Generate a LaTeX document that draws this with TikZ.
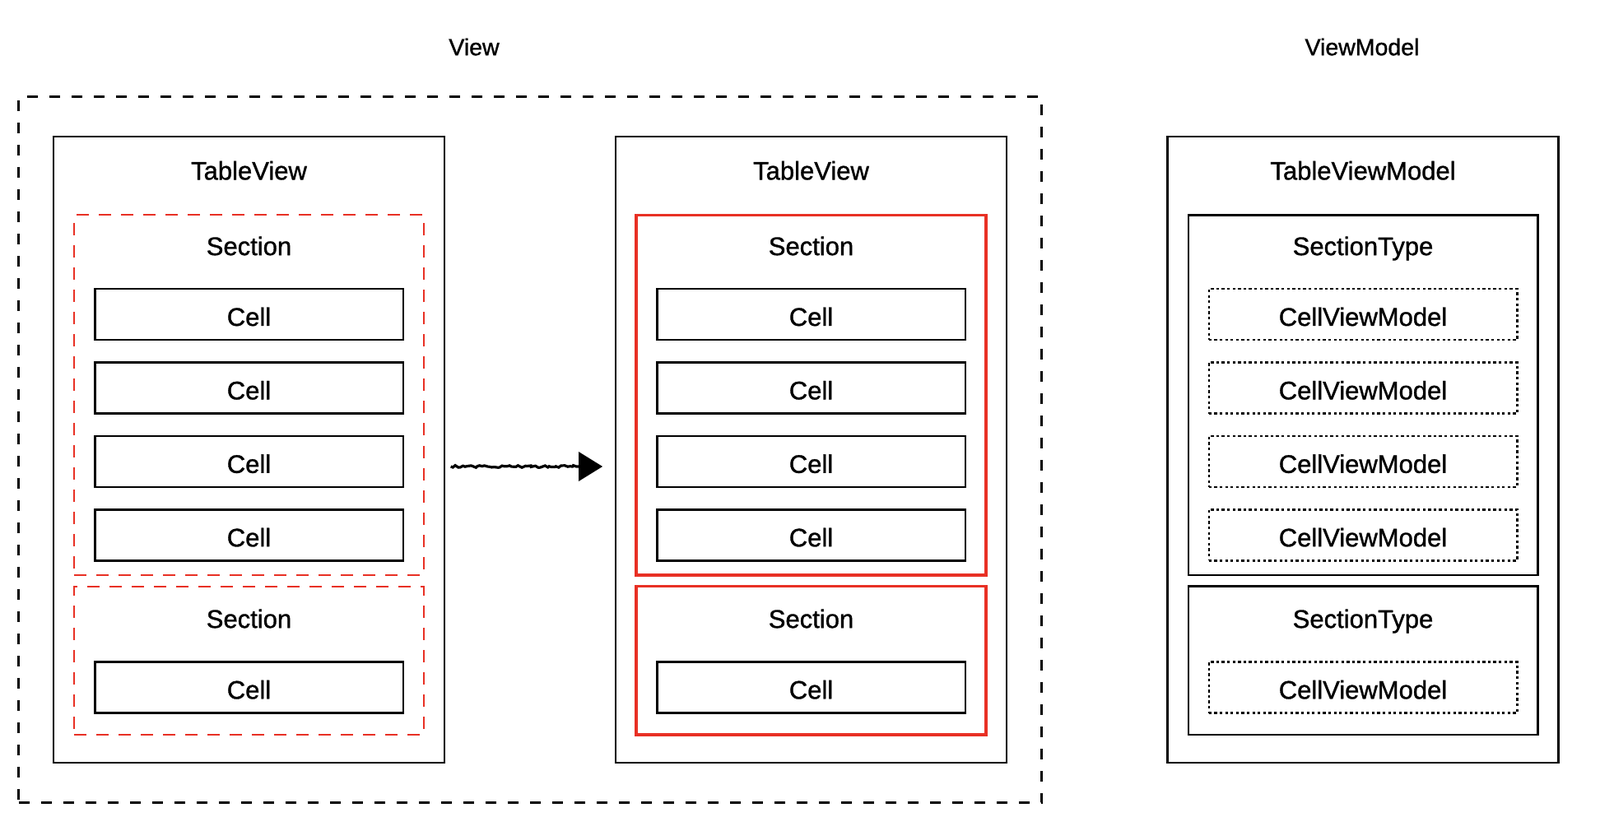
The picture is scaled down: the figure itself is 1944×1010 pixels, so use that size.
\documentclass[tikz,border=0pt]{standalone}
\usepackage{fontspec}
\setmainfont{Liberation Sans}
\newfontfamily\boxfont[FakeBold=1.1]{Liberation Sans}
\usetikzlibrary{arrows.meta, decorations.pathmorphing}
\definecolor{sectred}{RGB}{232,48,36}
\tikzset{
    viewarea/.style={rectangle, minimum width=621.5pt, minimum height=429pt, draw=black, line width=1.5pt, dash pattern=on 6.5pt off 7pt},
    tablebox/.style={rectangle, minimum width=237.5pt, minimum height=380.5pt, draw=black, line width=1.25pt},
    sectdash/.style={rectangle, minimum width=212.25pt, draw=sectred, line width=1pt, dash pattern=on 7.5pt off 6pt},
    sectsolid/.style={rectangle, minimum width=212.25pt, draw=sectred, line width=1.8pt},
    typebox/.style={rectangle, minimum width=212.25pt, draw=black, line width=1.25pt},
    cellbox/.style={rectangle, minimum width=187.25pt, minimum height=31pt, draw=black, line width=1.25pt, inner sep=0pt, font=\boxfont\fontsize{15.5}{18}\selectfont, text height=13.8pt, text depth=0pt},
    cvmbox/.style={cellbox, dash pattern=on 1.65pt off 1.65pt},
    title/.style={inner sep=0pt, font=\boxfont\fontsize{15.5}{18}\selectfont, text height=11.1pt, text depth=0pt},
    heading/.style={inner sep=0pt, font=\boxfont\fontsize{14.25}{17}\selectfont, text height=10.2pt, text depth=0pt},
    arrow/.style={line width=1.6pt, -{Triangle[length=14.5pt, width=17.5pt]}, decoration={random steps, segment length=1.5pt, amplitude=0.7pt, post length=16pt}, decorate}
}
\begin{document}
\begin{tikzpicture}[x=0.5pt, y=-0.5pt]
    \useasboundingbox (0,0) rectangle (1944,1010);

    \node (viewlbl) [heading] at (576,57) {View};
    \node (vmlbl) [heading] at (1655,57) {ViewModel};
    \node (view) [viewarea] at (644.25,546.9) {};

    % left: TableView with dashed sections
    \node (tv1) [tablebox] at (302.5,546.5) {};
    \node (tv1t) [title] at ([yshift=-21.25pt]tv1.north) {TableView};
    \node (s1a) [sectdash, minimum height=218.75pt] at (302.5,480.25) {};
    \node (s1at) [title] at (302.5,299) {Section};
    \foreach \i/\y in {1/382.2, 2/471.6, 3/561, 4/650.4}
        \node (c1a\i) [cellbox] at (302.5,\y) {Cell};
    \node (s1b) [sectdash, minimum height=90.25pt] at (302.5,802.75) {};
    \node (s1bt) [title] at (302.5,752) {Section};
    \node (c1b1) [cellbox] at (302.5,835.5) {Cell};

    % middle: TableView with solid sections
    \node (tv2) [tablebox] at (985.5,546.5) {};
    \node (tv2t) [title] at ([yshift=-21.25pt]tv2.north) {TableView};
    \node (s2a) [sectsolid, minimum height=218.75pt] at (985.5,480.25) {};
    \node (s2at) [title] at (985.5,299) {Section};
    \foreach \i/\y in {1/382.2, 2/471.6, 3/561, 4/650.4}
        \node (c2a\i) [cellbox] at (985.5,\y) {Cell};
    \node (s2b) [sectsolid, minimum height=90.25pt] at (985.5,802.75) {};
    \node (s2bt) [title] at (985.5,752) {Section};
    \node (c2b1) [cellbox] at (985.5,835.5) {Cell};

    % right: TableViewModel
    \node (tvm) [tablebox] at (1656,546.5) {};
    \node (tvmt) [title] at ([yshift=-21.25pt]tvm.north) {TableViewModel};
    \node (st1) [typebox, minimum height=218.75pt] at (1656,480.25) {};
    \node (st1t) [title] at (1656,299) {SectionType};
    \foreach \i/\y in {1/382.2, 2/471.6, 3/561, 4/650.4}
        \node (cvm1\i) [cvmbox] at (1656,\y) {CellViewModel};
    \node (st2) [typebox, minimum height=90.25pt] at (1656,802.75) {};
    \node (st2t) [title] at (1656,752) {SectionType};
    \node (cvm21) [cvmbox] at (1656,835.5) {CellViewModel};

    \draw [arrow] ([xshift=3.2pt, yshift=-10.25pt]tv1.east) -- ([xshift=-7.3pt, yshift=-10.25pt]tv2.west);

\end{tikzpicture}
\end{document}
